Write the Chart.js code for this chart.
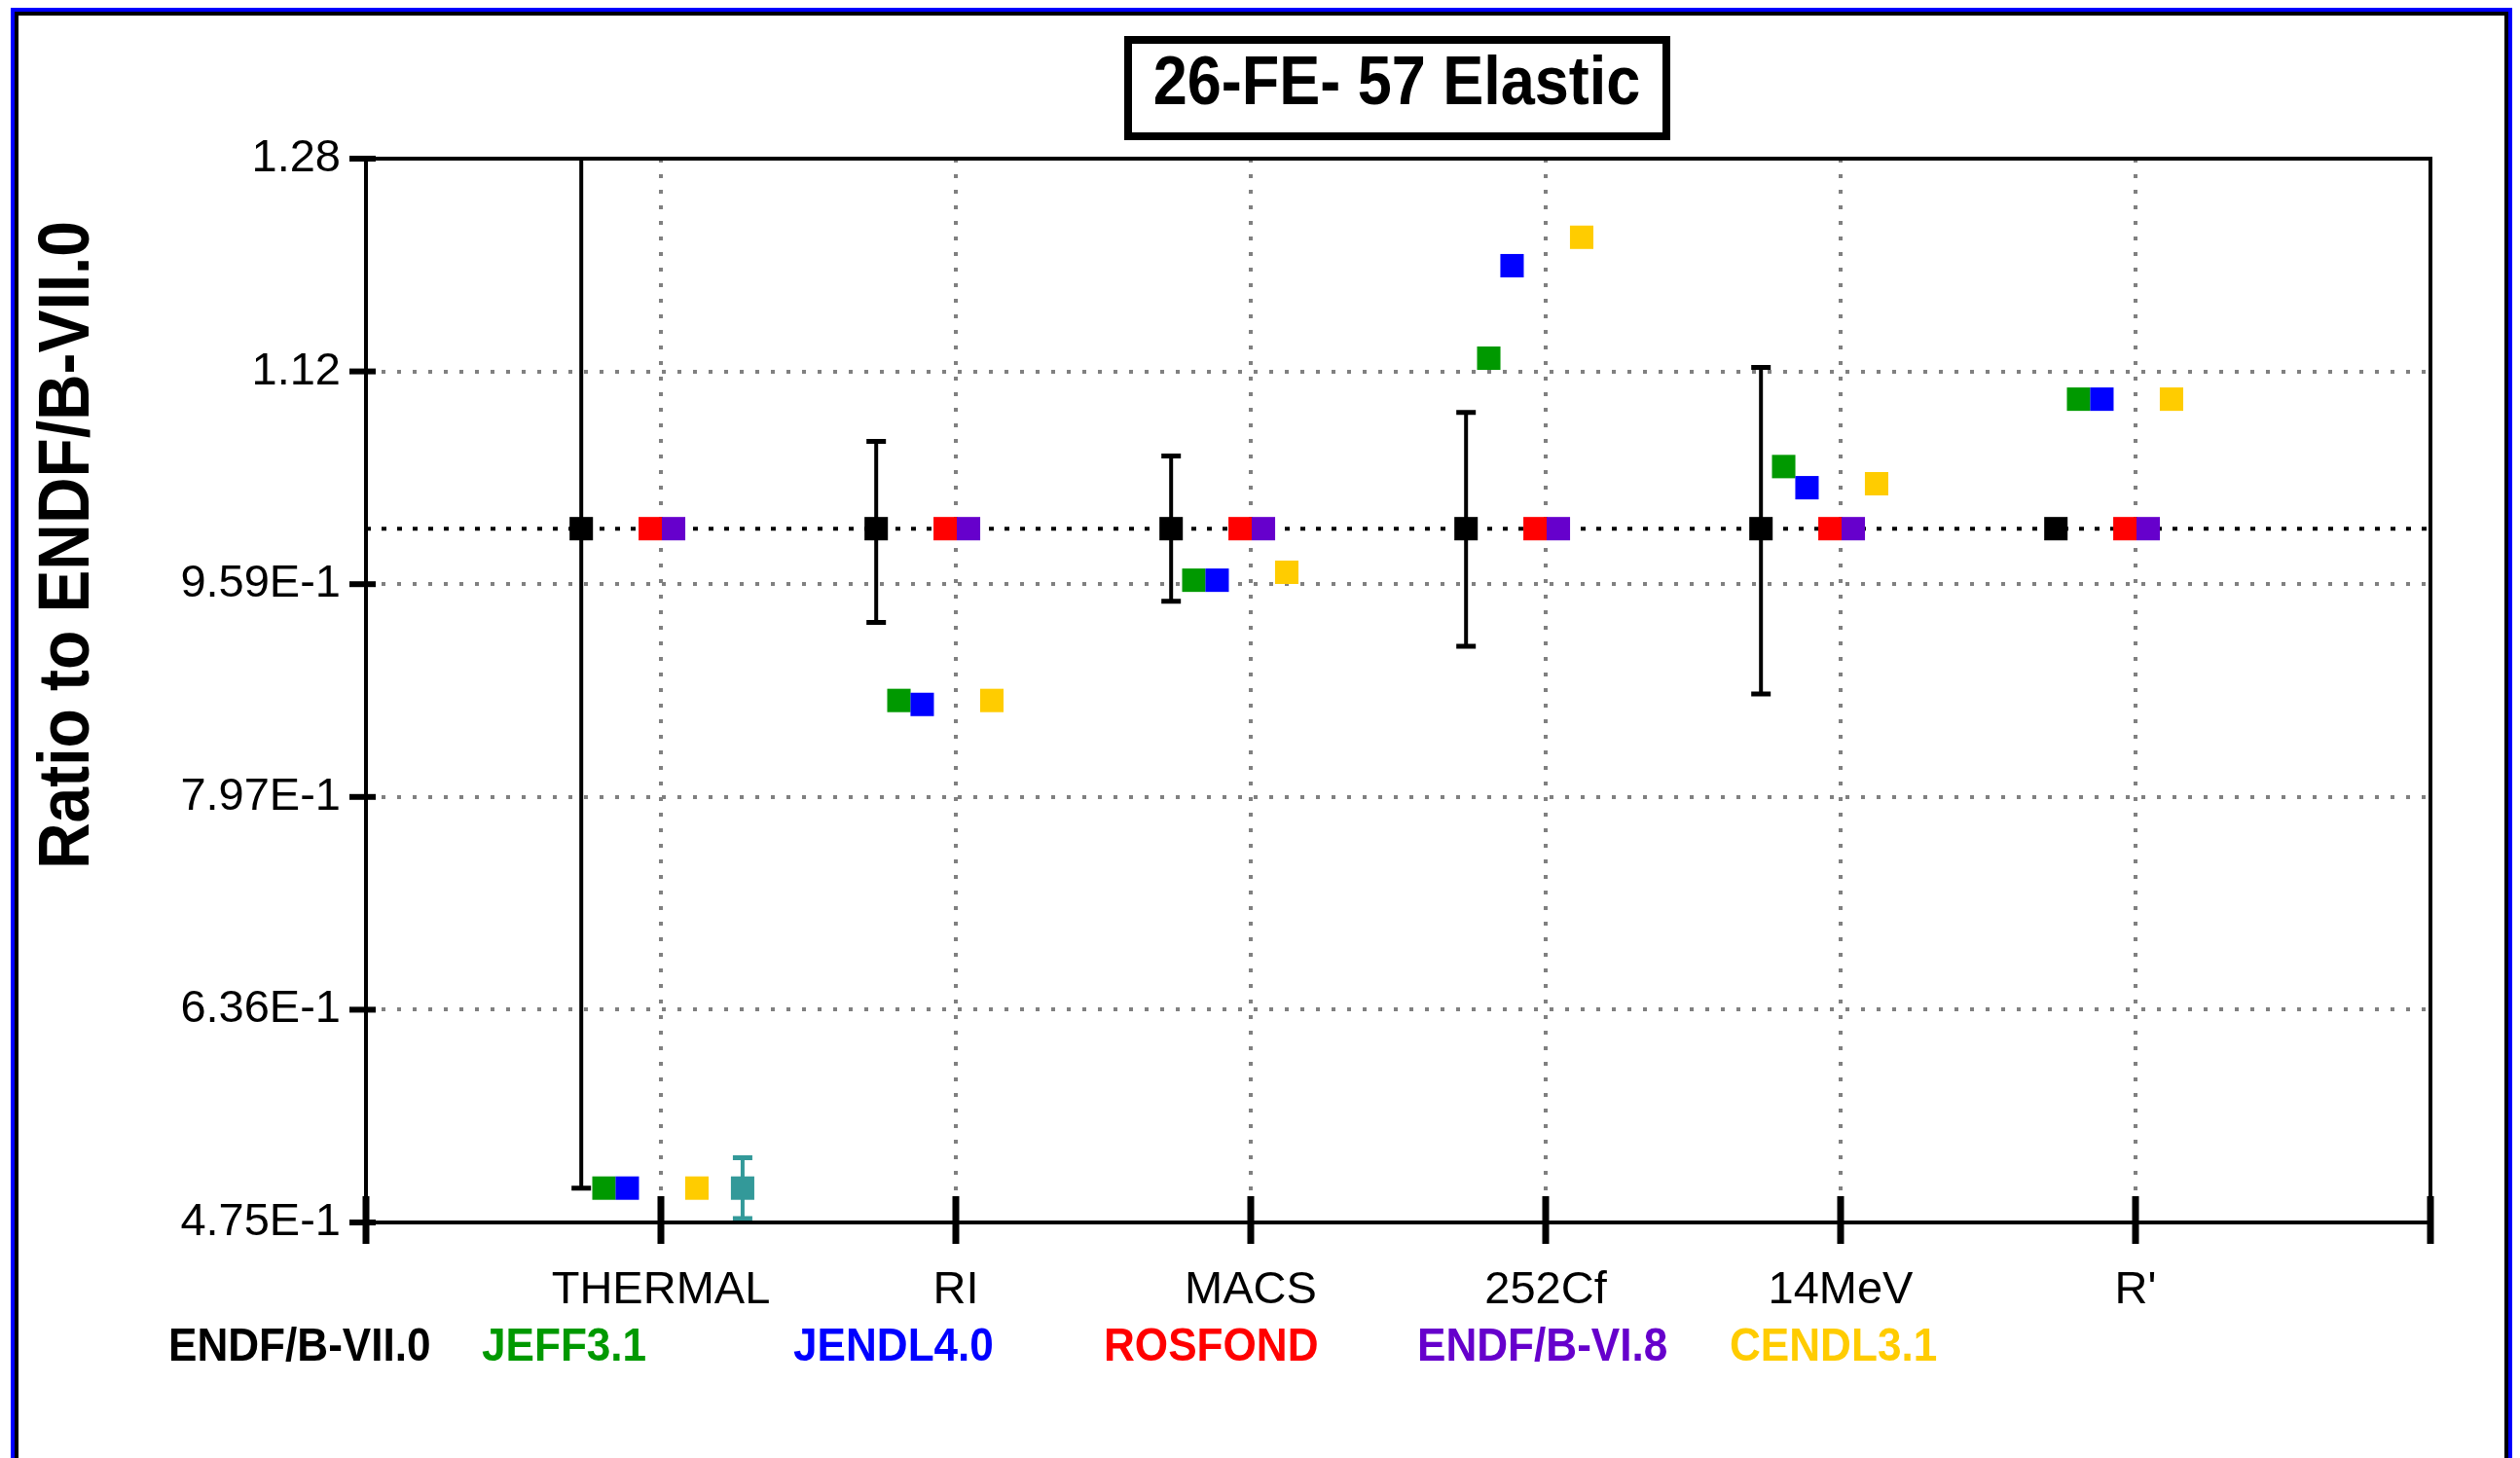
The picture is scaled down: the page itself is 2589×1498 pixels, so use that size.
<!DOCTYPE html>
<html>
<head>
<meta charset="utf-8">
<title>26-FE- 57 Elastic</title>
<script src="https://cdn.jsdelivr.net/npm/chart.js@4.4.0/dist/chart.umd.min.js"></script>
<style>
	html, body { margin: 0; padding: 0; background: #fff; overflow: hidden; }
	canvas { display: block; }
</style>
</head>
<body>
<canvas id="ratioChart" width="2589" height="1498"></canvas>
<script>
// categories on the x axis (slot 0 and 7 are empty ends)
const categories = ['THERMAL', 'RI', 'MACS', '252Cf', '14MeV', "R'"];

// y axis ticks
const yTickValues = [0.475, 0.636, 0.797, 0.958, 1.119, 1.28];
const yTickLabels = ['4.75E-1', '6.36E-1', '7.97E-1', '9.59E-1', '1.12', '1.28'];

// ratios to ENDF/B-VII.0, one per category
const endfb70 = [1.0, 1.0, 1.0, 1.0, 1.0, 1.0];
const endfb70Low = [0.501, 0.929, 0.945, 0.911, 0.875, null];
const endfb70High = [1.499, 1.066, 1.055, 1.088, 1.122, null];
const jeff31 = [0.501, 0.870, 0.961, 1.129, 1.047, 1.098];
const jendl40 = [0.501, 0.867, 0.961, 1.199, 1.031, 1.098];
const rosfond = [1.0, 1.0, 1.0, 1.0, 1.0, 1.0];
const endfb68 = [1.0, 1.0, 1.0, 1.0, 1.0, 1.0];
const cendl31 = [0.501, 0.870, 0.967, 1.2205, 1.034, 1.098];
const measured = [0.501, null, null, null, null, null];
const measuredLow = [0.478, null, null, null, null, null];
const measuredHigh = [0.524, null, null, null, null, null];
const refValue = 1.0;

const xMin = 0;
const xMax = 7;

// series look: colour + sideways offset inside a category slot
const series = [
	{ label: 'ENDF/B-VII.0', values: endfb70, color: '#000000', offset: -0.27, legendX: 173 },
	{ label: 'JEFF3.1', values: jeff31, color: '#009900', offset: -0.193, legendX: 495 },
	{ label: 'JENDL4.0', values: jendl40, color: '#0000FF', offset: -0.114, legendX: 815 },
	{ label: 'ROSFOND', values: rosfond, color: '#FF0000', offset: -0.036, legendX: 1134 },
	{ label: 'ENDF/B-VI.8', values: endfb68, color: '#6600CC', offset: 0.043, legendX: 1456 },
	{ label: 'CENDL3.1', values: cendl31, color: '#FFCC00', offset: 0.122, legendX: 1777 },
	{ label: 'measured', values: measured, color: '#339999', offset: 0.277, legendX: null }
];

const errorSets = [
	{ low: endfb70Low, high: endfb70High, color: '#000000', offset: -0.27 },
	{ low: measuredLow, high: measuredHigh, color: '#339999', offset: 0.277 }
];

function toPoints(values, offset) {
	const pts = [];
	values.forEach((v, i) => {
		if (v !== null) pts.push({ x: i + 1 + offset, y: v });
	});
	return pts;
}

function drawNarrow(ctx, text, x, y, font, color, sx, align) {
	ctx.save();
	ctx.font = font;
	ctx.fillStyle = color;
	ctx.textAlign = align || 'left';
	ctx.textBaseline = 'alphabetic';
	ctx.translate(x, y);
	ctx.scale(sx, 1);
	ctx.fillText(text, 0, 0);
	ctx.restore();
}

// frame, title box, axis title, legend
const decorations = {
	id: 'decorations',
	beforeDraw(chart) {
		const ctx = chart.ctx;
		ctx.save();
		ctx.fillStyle = '#fff';
		ctx.fillRect(0, 0, chart.width, chart.height);
		ctx.lineWidth = 4;
		ctx.strokeStyle = '#0000FF';
		ctx.beginPath();
		ctx.moveTo(13, chart.height);
		ctx.lineTo(13, 10);
		ctx.lineTo(2579, 10);
		ctx.lineTo(2579, chart.height);
		ctx.stroke();
		ctx.strokeStyle = '#000';
		ctx.beginPath();
		ctx.moveTo(17, chart.height);
		ctx.lineTo(17, 14);
		ctx.lineTo(2575, 14);
		ctx.lineTo(2575, chart.height);
		ctx.stroke();

		// title box
		ctx.lineWidth = 8;
		ctx.strokeRect(1159, 41, 553, 99);
		ctx.restore();
		drawNarrow(ctx, '26-FE- 57 Elastic', 1435, 107, 'bold 70px "Liberation Sans", Arial, sans-serif', '#000', 0.9, 'center');

		// y axis title
		ctx.save();
		ctx.translate(91, 560);
		ctx.rotate(-Math.PI / 2);
		ctx.scale(0.89, 1);
		ctx.font = 'bold 74px "Liberation Sans", Arial, sans-serif';
		ctx.fillStyle = '#000';
		ctx.textAlign = 'center';
		ctx.fillText('Ratio to ENDF/B-VII.0', 0, 0);
		ctx.restore();

		// legend row
		series.forEach(s => {
			if (s.legendX === null) return;
			drawNarrow(ctx, s.label, s.legendX, 1398, 'bold 49px "Liberation Sans", Arial, sans-serif', s.color, 0.9, 'left');
		});
	}
};

const errorBars = {
	id: 'errorBars',
	beforeDatasetsDraw(chart) {
		const { ctx, chartArea, scales: { x, y } } = chart;
		ctx.save();
		ctx.beginPath();
		ctx.rect(chartArea.left, chartArea.top, chartArea.width, chartArea.height);
		ctx.clip();
		errorSets.forEach(set => {
			set.low.forEach((lo, i) => {
				const hi = set.high[i];
				if (lo === null || hi === null) return;
				const px = x.getPixelForValue(i + 1 + set.offset);
				const pLo = y.getPixelForValue(lo);
				const pHi = y.getPixelForValue(hi);
				ctx.strokeStyle = set.color;
				ctx.lineWidth = 4;
				ctx.beginPath();
				ctx.moveTo(px, pLo);
				ctx.lineTo(px, pHi);
				ctx.stroke();
				ctx.lineWidth = 5;
				ctx.beginPath();
				ctx.moveTo(px - 10, pLo);
				ctx.lineTo(px + 10, pLo);
				ctx.moveTo(px - 10, pHi);
				ctx.lineTo(px + 10, pHi);
				ctx.stroke();
			});
		});
		ctx.restore();
	}
};

// plot frame and the heavy tick marks
const frameTicks = {
	id: 'frameTicks',
	afterDraw(chart) {
		const { ctx, chartArea: a, scales: { x, y } } = chart;
		ctx.save();
		ctx.strokeStyle = '#000';
		ctx.lineWidth = 4;
		ctx.strokeRect(a.left, a.top, a.right - a.left, a.bottom - a.top);
		ctx.lineWidth = 7;
		for (let v = xMin; v <= xMax; v++) {
			const px = x.getPixelForValue(v);
			ctx.beginPath();
			ctx.moveTo(px, a.bottom - 27);
			ctx.lineTo(px, a.bottom + 22);
			ctx.stroke();
		}
		ctx.lineWidth = 6;
		yTickValues.forEach(v => {
			const py = y.getPixelForValue(v);
			ctx.beginPath();
			ctx.moveTo(a.left - 17, py);
			ctx.lineTo(a.left + 10, py);
			ctx.stroke();
		});
		ctx.restore();
	}
};

const datasets = [{
	type: 'line',
	label: 'ref',
	data: [{ x: xMin, y: refValue }, { x: xMax, y: refValue }],
	borderColor: '#000',
	borderWidth: 4,
	borderDash: [5, 11],
	pointRadius: 0,
	fill: false,
	order: 20
}];
series.forEach((s, i) => {
	datasets.push({
		type: 'scatter',
		label: s.label,
		data: toPoints(s.values, s.offset),
		backgroundColor: s.color,
		borderColor: s.color,
		borderWidth: 0,
		pointStyle: 'rect',
		pointRadius: 17,
		pointHoverRadius: 17,
		order: 10 - i
	});
});

new Chart(document.getElementById('ratioChart').getContext('2d'), {
	data: { datasets: datasets },
	options: {
		responsive: false,
		animation: false,
		devicePixelRatio: 1,
		layout: { padding: { left: 0, top: 163, right: 92, bottom: 0 } },
		scales: {
			x: {
				type: 'linear',
				min: xMin,
				max: xMax,
				afterBuildTicks: scale => {
					const t = [];
					for (let v = xMin; v <= xMax; v++) t.push({ value: v });
					scale.ticks = t;
				},
				afterFit: scale => { scale.height = 242; },
				ticks: {
					autoSkip: false,
					maxRotation: 0,
					padding: 42,
					color: '#000',
					font: { family: '"Liberation Sans", Arial, sans-serif', size: 47 },
					callback: v => categories[v - 1] || ''
				},
				grid: {
					drawTicks: false,
					lineWidth: 4,
					color: c => (c.tick && c.tick.value > xMin && c.tick.value < xMax) ? '#808080' : 'rgba(0,0,0,0)'
				},
				border: { display: false, dash: [4, 12] }
			},
			y: {
				type: 'linear',
				min: yTickValues[0],
				max: yTickValues[yTickValues.length - 1],
				afterBuildTicks: scale => {
					scale.ticks = yTickValues.map(v => ({ value: v }));
				},
				afterFit: scale => { scale.width = 376; },
				ticks: {
					autoSkip: false,
					padding: 26,
					color: '#000',
					font: { family: '"Liberation Sans", Arial, sans-serif', size: 47 },
					callback: (v, i) => yTickLabels[i]
				},
				grid: {
					drawTicks: false,
					lineWidth: 4,
					color: c => (c.index > 0 && c.index < yTickValues.length - 1) ? '#808080' : 'rgba(0,0,0,0)'
				},
				border: { display: false, dash: [4, 12] }
			}
		},
		plugins: {
			legend: { display: false },
			tooltip: { enabled: false },
			title: { display: false }
		}
	},
	plugins: [decorations, errorBars, frameTicks]
});
</script>
</body>
</html>
